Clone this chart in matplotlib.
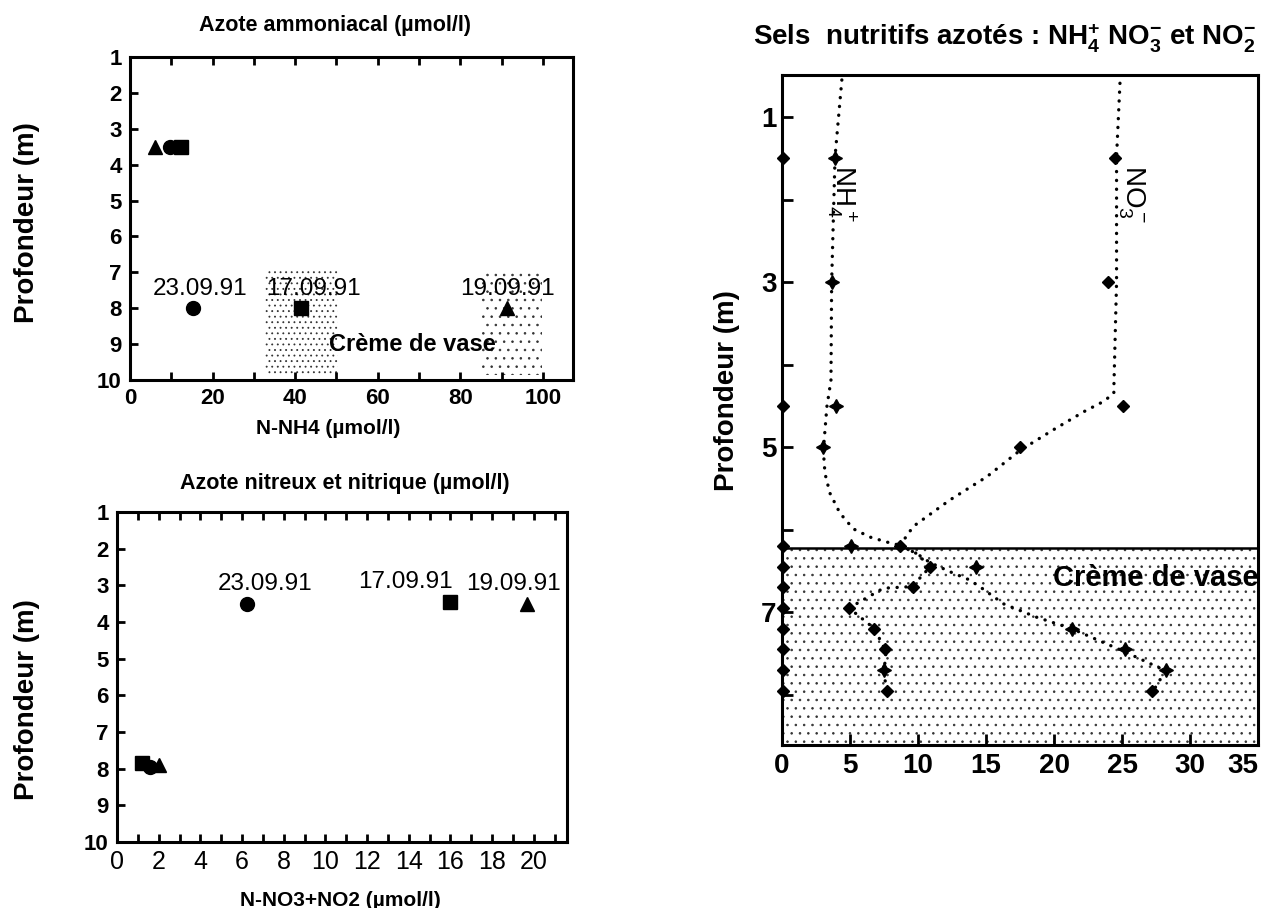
import matplotlib
matplotlib.use('Agg')
import matplotlib.pyplot as plt

plt.rcParams['font.family'] = ['Liberation Sans', 'DejaVu Sans']
plt.rcParams['mathtext.fontset'] = 'custom'
plt.rcParams['mathtext.rm'] = 'Liberation Sans'
plt.rcParams['mathtext.bf'] = 'Liberation Sans:bold'
plt.rcParams['mathtext.default'] = 'regular'
plt.rcParams['hatch.linewidth'] = 0.6

# --- left panels: one sample per date, surface and bottom
dates = ['17.09.91', '19.09.91', '23.09.91']
date_markers = ['s', '^', 'o']

nh4_surf = [12.3, 6.0, 9.7]
nh4_surf_depth = [3.5, 3.5, 3.5]
nh4_bot = [41.5, 91.3, 15.3]
nh4_bot_depth = [8.0, 8.0, 8.0]

no3_surf = [16.0, 19.7, 6.25]
no3_surf_depth = [3.45, 3.5, 3.5]
no3_bot = [1.2, 2.0, 1.6]
no3_bot_depth = [7.85, 7.9, 7.95]

# stippled "creme de vase" zones in the NH4 panel (x0, x1, top, bottom)
mud_x0 = [32.7, 85.2]
mud_x1 = [50.4, 99.8]
mud_top = [6.9, 6.9]
mud_bot = [9.85, 9.85]
mud_hatch = ['...', '..']

# --- right panel: vertical profile
plus_val = [3.9, 3.7, 4.0, 3.0, 5.1, 14.3, 21.3, 25.2, 28.2, 7.5]
plus_depth = [1.5, 3.0, 4.5, 5.0, 6.2, 6.45, 7.2, 7.45, 7.7, 7.7]
diam_val = [24.5, 24.0, 25.1, 17.5, 8.7, 10.9, 9.6, 4.9, 6.8, 7.6, 7.7, 27.2]
diam_depth = [1.5, 3.0, 4.5, 5.0, 6.2, 6.45, 6.7, 6.95, 7.2, 7.45, 7.95, 7.95]
no2_val = [0.1, 0.1, 0.1, 0.1, 0.1, 0.1, 0.1, 0.1, 0.1, 0.1]
no2_depth = [1.5, 4.5, 6.2, 6.45, 6.7, 6.95, 7.2, 7.45, 7.7, 7.95]

nh4_curve = [4.4, 3.9, 3.65, 3.6, 3.3, 3.04, 3.16, 3.53, 4.26, 5.24, 6.47, 7.7,
             8.68, 9.9, 10.9, 12.35, 13.8, 14.7, 16.3, 18.7, 21.3, 25.2, 28.2, 27.2]
nh4_curve_depth = [0.55, 1.48, 3.0, 4.19, 4.51, 5.04, 5.32, 5.56, 5.8, 5.99, 6.09, 6.15,
                   6.19, 6.29, 6.4, 6.51, 6.61, 6.71, 6.9, 7.06, 7.2, 7.48, 7.71, 7.98]
no3_curve = [24.85, 24.6, 24.6, 24.4, 24.4, 23.6, 22.2, 19.95, 17.5, 15.05, 12.35, 9.66,
             8.68, 9.9, 10.9, 9.56, 7.45, 4.93, 6.8, 7.65, 7.5, 7.7]
no3_curve_depth = [0.59, 1.48, 3.0, 4.29, 4.35, 4.45, 4.57, 4.79, 5.04, 5.36, 5.64, 5.96,
                   6.19, 6.29, 6.45, 6.69, 6.71, 6.95, 7.2, 7.48, 7.72, 7.98]
mud_depth = 6.22

W, H = 1269, 908
fig = plt.figure(figsize=(W / 100, H / 100), dpi=100)


def box(l, t, r, b):
    return [l / W, 1 - b / H, (r - l) / W, (b - t) / H]


def style_axes(ax, size, bold=True, top=True):
    for s in ax.spines.values():
        s.set_linewidth(2.2)
    ax.tick_params(which='both', direction='in', top=top, bottom=True, left=True,
                   right=False, length=6, width=2, labelsize=size, pad=6)
    if bold:
        for lbl in ax.get_xticklabels() + ax.get_yticklabels():
            lbl.set_fontweight('bold')


def fig_label(x, y, s, **kw):
    fig.text(x / W, 1 - y / H, s, ha='center', va='center', **kw)


# ---------- top left: NH4
ax1 = fig.add_axes(box(130, 57, 573, 380))
for x0, x1, t, b, h in zip(mud_x0, mud_x1, mud_top, mud_bot, mud_hatch):
    ax1.fill_between([x0, x1], t, b, facecolor='white', edgecolor='#333333',
                     hatch=h, linewidth=0)
offs1 = [(8.6, 13.7), (0, 13.7), (5, 13.7)]
for d, m, xs, ys, xb, yb, o in zip(dates, date_markers, nh4_surf, nh4_surf_depth,
                                   nh4_bot, nh4_bot_depth, offs1):
    ax1.plot([xs, xb], [ys, yb], ls='none', marker=m, ms=10, color='black')
    ax1.annotate(d, (xb, yb), xytext=o, textcoords='offset points',
                 ha='center', va='center', fontsize=17.5)
ax1.text(68.5, 9.0, 'Crème de vase', ha='center', va='center', fontsize=17,
         fontweight='bold')
ax1.set_xlim(0, 107.3)
ax1.set_ylim(10, 1)
ax1.set_xticks(range(0, 101, 20))
ax1.set_xticks(range(10, 101, 20), minor=True)
ax1.set_yticks(range(1, 11))
style_axes(ax1, 16)
fig_label(335, 25, 'Azote ammoniacal (µmol/l)', fontsize=15.5, fontweight='bold')
fig_label(328, 428, 'N-NH4 (µmol/l)', fontsize=15, fontweight='bold')
fig_label(27, 223, 'Profondeur (m)', fontsize=20, fontweight='bold', rotation=90)

# ---------- bottom left: NO3 + NO2
ax2 = fig.add_axes(box(117, 512, 567, 842))
offs2 = [(-32, 14.4), (-10, 14.4), (13, 14.4)]
for d, m, xs, ys, xb, yb, o in zip(dates, date_markers, no3_surf, no3_surf_depth,
                                   no3_bot, no3_bot_depth, offs2):
    ax2.plot([xs, xb], [ys, yb], ls='none', marker=m, ms=10, color='black')
    ax2.annotate(d, (xs, ys), xytext=o, textcoords='offset points',
                 ha='center', va='center', fontsize=17.5)
ax2.set_xlim(0, 21.6)
ax2.set_ylim(10, 1)
ax2.set_xticks(range(0, 21, 2))
ax2.set_xticks(range(1, 22, 2), minor=True)
ax2.set_yticks(range(1, 11))
style_axes(ax2, 16)
for lbl in ax2.get_xticklabels():
    lbl.set_fontweight('normal')
    lbl.set_fontsize(18)
fig_label(345, 483, 'Azote nitreux et nitrique (µmol/l)', fontsize=15.5, fontweight='bold')
fig_label(340, 900, 'N-NO3+NO2 (µmol/l)', fontsize=15, fontweight='bold')
fig_label(27, 700, 'Profondeur (m)', fontsize=20, fontweight='bold', rotation=90)

# ---------- right: profile
ax3 = fig.add_axes(box(782, 75, 1258, 745))
ax3.set_xlim(0, 35.0)
ax3.set_ylim(8.61, 0.49)
ax3.fill_between([0, 35.0], mud_depth, 8.61, facecolor='white', edgecolor='#333333',
                 hatch='..', linewidth=0)
ax3.axhline(mud_depth, color='black', lw=1.8)
dot = dict(color='black', lw=2.4, ls=(0, (0.05, 2.6)), dash_capstyle='round')
ax3.plot(nh4_curve, nh4_curve_depth, **dot)
ax3.plot(no3_curve, no3_curve_depth, **dot)
ax3.plot(plus_val, plus_depth, ls='none', marker=(4, 1, 0), ms=10, color='black')
ax3.plot(diam_val, diam_depth, ls='none', marker='D', ms=6.5, color='black')
ax3.plot(no2_val, no2_depth, ls='none', marker='D', ms=6, color='black', clip_on=False)
ax3.text(4.35, 1.58, 'NH$_4^+$', rotation=-90, ha='center', va='top', fontsize=20)
ax3.text(25.7, 1.58, 'NO$_3^-$', rotation=-90, ha='center', va='top', fontsize=20)
ax3.text(19.9, 6.59, 'Crème de vase', ha='left', va='center', fontsize=21,
         fontweight='bold', clip_on=True)
ax3.set_xticks(range(0, 36, 5))
ax3.set_yticks([1, 3, 5, 7])
ax3.set_yticks([2, 4, 6, 8], minor=True)
style_axes(ax3, 20, top=False)
ax3.tick_params(which='both', length=8, top=False)
ax3.tick_params(axis='y', pad=4)
ax3.get_xticklabels()[-1].set_ha('right')
fig_label(1005, 38, 'Sels  nutritifs azotés : NH$_\\mathbf{4}^\\mathbf{+}$ '
          'NO$_\\mathbf{3}^\\mathbf{-}$ et NO$_\\mathbf{2}^\\mathbf{-}$',
          fontsize=20, fontweight='bold')
fig_label(727, 391, 'Profondeur (m)', fontsize=20, fontweight='bold', rotation=90)

fig.savefig('out.png', dpi=100, facecolor='white')
